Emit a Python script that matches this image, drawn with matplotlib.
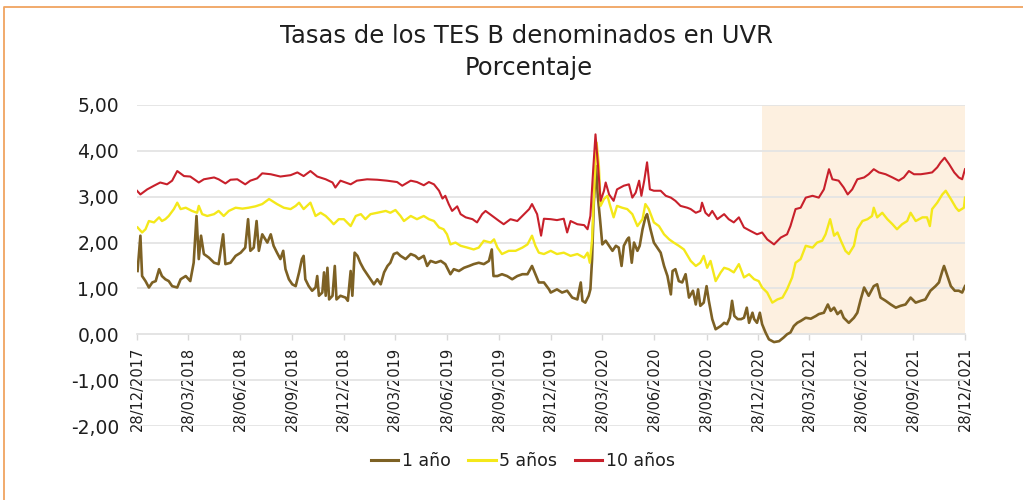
import datetime as dt
import matplotlib
matplotlib.use("Agg")
import matplotlib.pyplot as plt
from matplotlib.lines import Line2D

# ---------------- data (day offsets from 28/12/2017, rates in %) ----------------
inicio = dt.date(2017, 12, 28)

dias_1 = [1, 6, 9, 15, 21, 27, 33, 39, 44, 50, 56, 62, 71, 77, 86, 94, 100, 105, 109, 113, 118, 127, 136, 144,
          152, 156, 165, 174, 183, 191, 196, 200, 206, 211, 215, 221, 230,
          236, 241, 247, 253, 258, 262, 268, 274, 280, 286, 291, 294, 297, 303, 309, 315, 318, 321, 327, 330, 333,
          336, 339, 345, 349, 352, 359, 368, 372, 377, 380, 384, 389, 394, 400, 406, 412, 418, 424, 430, 436, 442,
          447, 453, 459, 465, 474,
          483, 491, 497, 506, 512, 518, 527, 536, 544, 553, 559, 568, 577, 586, 594, 603, 612, 621, 626, 629, 636,
          644, 653, 662, 671, 680, 689, 697, 703, 709, 718, 727,
          730, 741, 750, 759, 768, 777, 783, 786, 791, 797, 800, 803, 806, 810, 813, 817, 821, 827, 833, 839, 845,
          850, 855, 859, 865, 868, 873, 877, 883, 887, 892, 897, 900, 906, 912, 918, 924, 930, 936, 942, 945, 950,
          956, 962, 968, 974,
          981, 986, 990, 994, 1000, 1005, 1009, 1015, 1021, 1030, 1036, 1041, 1046, 1050, 1054, 1060, 1066, 1071,
          1076, 1080, 1086, 1089, 1094, 1099, 1103, 1109, 1115, 1124, 1133, 1141, 1147, 1153, 1159, 1165, 1171,
          1180, 1189, 1198, 1203, 1212, 1219,
          1224, 1230, 1236, 1242, 1247, 1256, 1265, 1271, 1277, 1283, 1291, 1300, 1306, 1312, 1321, 1330, 1339,
          1347, 1356, 1365, 1374, 1383, 1391, 1400, 1409, 1415, 1421, 1424, 1430, 1436, 1443, 1450, 1456, 1461]
tasa_1 = [1.38, 2.15, 1.27, 1.16, 1.02, 1.13, 1.16, 1.42, 1.27, 1.20, 1.16, 1.05, 1.02, 1.20, 1.27, 1.16, 1.56,
          2.58, 1.64, 2.15, 1.75, 1.67, 1.56, 1.53, 2.18, 1.53, 1.56, 1.71, 1.78, 1.89, 2.51, 1.82, 1.89, 2.47,
          1.82, 2.18, 2.00,
          2.18, 1.93, 1.78, 1.64, 1.82, 1.42, 1.20, 1.09, 1.05, 1.35, 1.64, 1.71, 1.20, 1.05, 0.95, 1.02, 1.27,
          0.84, 0.91, 1.35, 0.84, 1.45, 0.76, 0.84, 1.49, 0.76, 0.84, 0.80, 0.73, 1.38, 0.84, 1.78, 1.71, 1.56,
          1.42, 1.31, 1.20, 1.09, 1.20, 1.09, 1.35, 1.49, 1.56, 1.75, 1.78, 1.71, 1.64,
          1.75, 1.71, 1.64, 1.71, 1.49, 1.60, 1.56, 1.60, 1.53, 1.31, 1.42, 1.38, 1.45, 1.49, 1.53, 1.56, 1.53,
          1.60, 1.85, 1.27, 1.27, 1.31, 1.27, 1.20, 1.27, 1.31, 1.31, 1.49, 1.31, 1.13, 1.13, 0.98,
          0.91, 0.98, 0.91, 0.95, 0.80, 0.76, 1.13, 0.73, 0.69, 0.84, 0.98, 1.64, 2.87, 3.67, 3.02, 2.51, 1.96,
          2.04, 1.93, 1.82, 1.93, 1.89, 1.49, 1.93, 2.07, 2.11, 1.56, 2.00, 1.82, 1.93, 2.29, 2.55, 2.62, 2.29,
          2.00, 1.89, 1.78, 1.49, 1.27, 0.87, 1.38, 1.42, 1.16, 1.13, 1.31, 0.80,
          0.95, 0.65, 0.98, 0.62, 0.69, 1.05, 0.73, 0.33, 0.11, 0.18, 0.25, 0.22, 0.36, 0.73, 0.40, 0.33, 0.33,
          0.36, 0.58, 0.25, 0.47, 0.33, 0.25, 0.47, 0.22, 0.04, -0.11, -0.17, -0.15, -0.07, 0.00, 0.04, 0.18,
          0.25, 0.29, 0.36, 0.34, 0.40, 0.44, 0.47, 0.65,
          0.51, 0.58, 0.44, 0.51, 0.36, 0.25, 0.36, 0.47, 0.76, 1.02, 0.84, 1.05, 1.09, 0.80, 0.73, 0.65, 0.58,
          0.62, 0.65, 0.80, 0.69, 0.73, 0.76, 0.95, 1.05, 1.13, 1.38, 1.49, 1.27, 1.05, 0.95, 0.95, 0.91, 1.05]

dias_5 = [1, 9, 15, 21, 30, 39, 44, 50, 56, 65, 71, 77, 86, 97, 106, 109, 115, 124, 136, 144, 153, 162, 174,
          186, 197, 209, 221, 233,
          247, 259, 271, 280, 286, 294, 306, 315, 324, 333, 342, 347, 356, 365, 377, 386, 395, 403, 412, 424, 439,
          447, 456, 465, 471,
          483, 494, 506, 515, 524, 533, 541, 547, 553, 562, 571, 583, 594, 603, 612, 624, 630, 636, 644, 656, 668,
          680, 689, 697, 703, 709, 718,
          730, 741, 753, 765, 777, 789, 795, 799, 803, 807, 811, 815, 818, 824, 830, 835, 841, 847, 856, 865, 874,
          883, 892, 897, 903, 912, 921, 930, 939, 947, 956, 965,
          977, 986, 994, 1000, 1006, 1012, 1021, 1030, 1036, 1044, 1053, 1062, 1071, 1080, 1089, 1097, 1103, 1112,
          1121, 1130, 1139, 1147, 1156, 1162, 1171, 1180, 1192, 1200, 1209, 1215, 1223,
          1230, 1236, 1242, 1250, 1256, 1265, 1271, 1280, 1289, 1297, 1300, 1306, 1315, 1324, 1333, 1341, 1350,
          1359, 1365, 1374, 1386, 1394, 1399, 1403, 1412, 1421, 1427, 1436, 1445, 1450, 1459, 1461]
tasa_5 = [2.33, 2.22, 2.29, 2.47, 2.44, 2.55, 2.47, 2.51, 2.58, 2.73, 2.87, 2.73, 2.76, 2.69, 2.65, 2.80, 2.62,
          2.58, 2.62, 2.69, 2.58, 2.69, 2.76, 2.74, 2.76, 2.79, 2.84, 2.95,
          2.84, 2.76, 2.73, 2.80, 2.87, 2.73, 2.87, 2.58, 2.65, 2.58, 2.47, 2.40, 2.51, 2.51, 2.36, 2.58, 2.62,
          2.51, 2.62, 2.65, 2.69, 2.65, 2.71, 2.58, 2.47,
          2.58, 2.51, 2.58, 2.51, 2.47, 2.33, 2.29, 2.18, 1.96, 2.00, 1.93, 1.89, 1.85, 1.89, 2.04, 2.00, 2.07,
          1.89, 1.75, 1.82, 1.82, 1.89, 1.96, 2.15, 1.93, 1.78, 1.75,
          1.82, 1.75, 1.78, 1.71, 1.75, 1.67, 1.78, 1.56, 2.07, 3.24, 4.18, 3.67, 2.80, 2.95, 3.02, 2.80, 2.55,
          2.80, 2.76, 2.73, 2.62, 2.36, 2.51, 2.84, 2.73, 2.44, 2.36, 2.18, 2.07, 2.00, 1.93, 1.85,
          1.60, 1.49, 1.56, 1.71, 1.45, 1.60, 1.16, 1.35, 1.45, 1.42, 1.35, 1.53, 1.24, 1.31, 1.20, 1.16, 1.02,
          0.91, 0.69, 0.76, 0.80, 0.98, 1.24, 1.56, 1.64, 1.93, 1.89, 2.00, 2.04, 2.18, 2.51,
          2.15, 2.22, 2.04, 1.82, 1.75, 1.93, 2.29, 2.47, 2.51, 2.58, 2.76, 2.55, 2.65, 2.51, 2.40, 2.29, 2.40,
          2.47, 2.65, 2.47, 2.55, 2.55, 2.36, 2.73, 2.87, 3.05, 3.13, 2.95, 2.76, 2.69, 2.76, 2.98]

dias_10 = [0, 6, 18, 30, 41, 53, 62, 71, 83, 94, 109, 118, 136, 144, 156, 165, 177, 191, 200, 212, 221, 236,
           253, 271, 283, 294, 306, 318, 333, 345, 350, 359, 377, 388, 406, 424, 441, 459, 468, 483,
           494, 506, 515, 524, 533, 539, 544, 550, 556, 565, 571, 580, 592, 600, 609, 615, 627, 639, 647, 659,
           671, 683, 692, 697, 706, 713, 718, 730,
           741, 753, 759, 765, 777, 789, 795, 800, 805, 809, 813, 818, 824, 827, 833, 841, 847, 859, 868, 874,
           880, 886, 890, 895, 900, 905, 912, 924, 933, 942, 950, 959, 971,
           977, 986, 994, 997, 1003, 1009, 1015, 1024, 1036, 1044, 1053, 1062, 1071, 1083, 1094, 1103, 1112,
           1124, 1136, 1147, 1153, 1162, 1171, 1180, 1192, 1203, 1212, 1221,
           1227, 1238, 1247, 1254, 1262, 1271, 1283, 1291, 1300, 1309, 1321, 1333, 1344, 1353, 1362, 1371, 1383,
           1394, 1403, 1412, 1418, 1425, 1433, 1442, 1450, 1456, 1461]
tasa_10 = [3.13, 3.05, 3.16, 3.24, 3.31, 3.27, 3.35, 3.56, 3.45, 3.44, 3.31, 3.38, 3.42, 3.38, 3.29, 3.37, 3.38,
           3.27, 3.35, 3.40, 3.51, 3.49,
           3.44, 3.47, 3.53, 3.45, 3.56, 3.44, 3.38, 3.31, 3.20, 3.35, 3.27, 3.35, 3.38, 3.37, 3.35, 3.32, 3.24,
           3.35,
           3.32, 3.25, 3.32, 3.27, 3.13, 2.96, 3.02, 2.84, 2.69, 2.79, 2.62, 2.55, 2.51, 2.44, 2.62, 2.69, 2.58,
           2.47, 2.40, 2.51, 2.47, 2.62, 2.73, 2.84, 2.62, 2.15, 2.52, 2.51,
           2.49, 2.52, 2.22, 2.47, 2.40, 2.38, 2.29, 2.58, 3.60, 4.36, 3.75, 2.91, 3.13, 3.31, 3.05, 2.91, 3.16,
           3.24, 3.27, 2.98, 3.09, 3.35, 3.02, 3.35, 3.75, 3.16, 3.13, 3.13, 3.02, 2.98, 2.91, 2.80, 2.76,
           2.73, 2.65, 2.69, 2.87, 2.65, 2.58, 2.69, 2.51, 2.62, 2.51, 2.44, 2.55, 2.33, 2.25, 2.18, 2.22, 2.07,
           1.96, 2.11, 2.18, 2.36, 2.73, 2.76, 2.98, 3.02, 2.98, 3.16, 3.60,
           3.38, 3.35, 3.20, 3.05, 3.16, 3.38, 3.42, 3.49, 3.60, 3.53, 3.49, 3.42, 3.35, 3.42, 3.56, 3.49, 3.49,
           3.51, 3.53, 3.64, 3.75, 3.85, 3.71, 3.53, 3.42, 3.38, 3.60]

series = ["1 año", "5 años", "10 años"]
fechas_ticks = ["28/12/2017", "28/03/2018", "28/06/2018", "28/09/2018", "28/12/2018", "28/03/2019",
                "28/06/2019", "28/09/2019", "28/12/2019", "28/03/2020", "28/06/2020", "28/09/2020",
                "28/12/2020", "28/03/2021", "28/06/2021", "28/09/2021", "28/12/2021"]
sombra_inicio = "03/01/2021"
sombra_fin = "28/12/2021"
y_ticks = [-2, -1, 0, 1, 2, 3, 4, 5]

# ---------------- styles ----------------
colores = ["#7d6124", "#f4e81a", "#c8202b"]
anchos = [1.9, 1.7, 1.5]
plt.rcParams["font.family"] = ["DejaVu Sans"]
txt = "#1e1e1e"


def a_fechas(dias):
    return [inicio + dt.timedelta(days=d) for d in dias]


def parse(s):
    return dt.datetime.strptime(s, "%d/%m/%Y").date()


fig = plt.figure(figsize=(10.23, 5.0), dpi=100)
ax = fig.add_axes([137 / 1023, 1 - 426 / 500, (965 - 137) / 1023, (426 - 105) / 500])

ax.axvspan(parse(sombra_inicio), parse(sombra_fin), ymin=2 / 7, ymax=1, color="#fdf0e0", lw=0, zorder=0)

for dias, vals, c, lw, name in zip([dias_1, dias_5, dias_10], [tasa_1, tasa_5, tasa_10], colores, anchos, series):
    ax.plot(a_fechas(dias), vals, color=c, lw=lw, label=name, zorder=3, solid_joinstyle="round")

ax.set_xlim(parse(fechas_ticks[0]), parse(fechas_ticks[-1]))
ax.set_ylim(-2, 5)
ax.set_yticks(y_ticks)
ax.set_yticklabels([f"{v:.2f}".replace(".", ",") for v in y_ticks])
ax.yaxis.grid(True, color="#e4e4e4", lw=1.3, zorder=1)
ax.set_axisbelow(True)
for s in ["top", "right", "left"]:
    ax.spines[s].set_visible(False)
ax.spines["bottom"].set_position(("data", 0))
ax.spines["bottom"].set_color("#e4e4e4")
ax.spines["bottom"].set_linewidth(1.3)

ax.set_xticks([parse(t) for t in fechas_ticks])
ax.set_xticklabels(fechas_ticks, rotation=90, fontsize=10.5, color=txt)
ax.tick_params(axis="x", length=4, color="#d8d8d8", width=1, pad=5)
ax.tick_params(axis="y", length=0, pad=13, labelsize=13.5, labelcolor=txt)

fig.text(0.515, 1 - 36 / 500, "Tasas de los TES B denominados en UVR", ha="center", va="center",
         fontsize=17.5, color=txt)
fig.text(0.517, 1 - 68 / 500, "Porcentaje", ha="center", va="center", fontsize=17.5, color=txt)

handles = [Line2D([], [], color=c, lw=2.2) for c in colores]
fig.legend(handles, series, loc="center", bbox_to_anchor=(0.511, 0.078), ncol=3, frameon=False,
           handlelength=1.6, handletextpad=0.2, columnspacing=1.0, fontsize=12.5, labelcolor=txt)

fig.add_artist(Line2D([4 / 1023, 4 / 1023, 1.0], [0, 1 - 7 / 500, 1 - 7 / 500], transform=fig.transFigure,
                      color="#f0a460", lw=1.3))

fig.savefig("out.png", dpi=100)
